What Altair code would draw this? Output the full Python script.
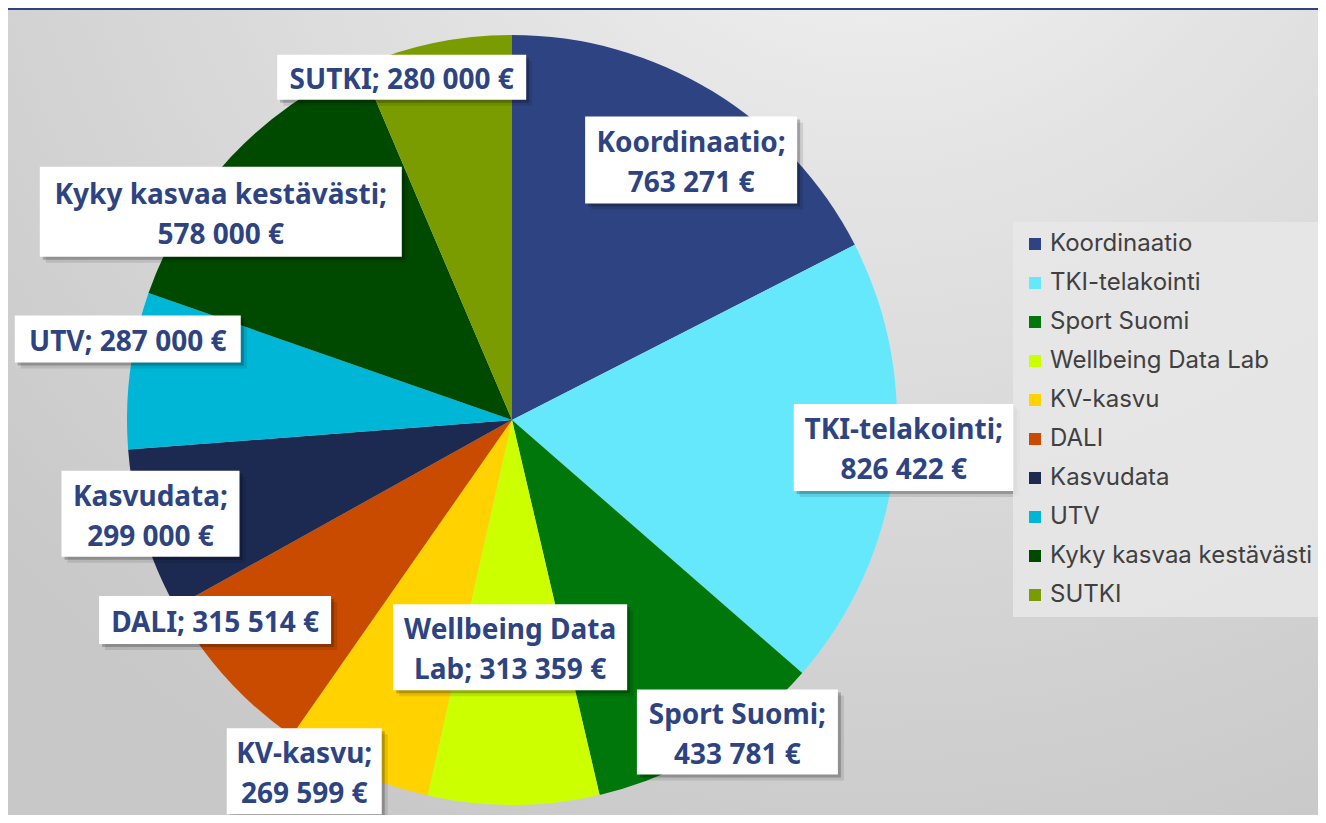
import math
import altair as alt
import pandas as pd

# ---------------- data ----------------
categories = ["Koordinaatio", "TKI-telakointi", "Sport Suomi", "Wellbeing Data Lab",
              "KV-kasvu", "DALI", "Kasvudata", "UTV", "Kyky kasvaa kestävästi", "SUTKI"]
values = [763271, 826422, 433781, 313359, 269599, 315514, 299000, 287000, 578000, 280000]
colors = ["#2E4482", "#66E8FC", "#00770A", "#CCFF00", "#FFD200",
          "#C84B00", "#1C2A52", "#00B6D6", "#004A00", "#7A9C00"]

# ---------------- layout (label placement, not data) ----------------
W, H = 1310, 807
CX, CY, R = 504, 412, 385
LINE_H = 40
label_break_after = [1, 1, 2, 2, 1, None, 1, None, 3, None]
label_angle_nudge = [3.1, -3.0, -4.8, 0.7, 6.8, 8.1, 2.2, 4.5, -7.5, -6.3]
label_radius = [0.82, 1.02, 1.0, 0.59, 1.06, 0.93, 0.97, 1.02, 0.93, 0.935]
box_w = [212, 220, 201, 234, 155, 232, 178, 226, 362, 249]
box_h = [87, 87, 85, 86, 86, 48, 86, 47, 90, 45]


def fmt(v):
    return f"{v:,}".replace(",", " ") + " €"


total = sum(values)
rows = []
cum = 0
for i, (c, v) in enumerate(zip(categories, values)):
    mid = (cum + v / 2) / total * 360
    cum += v
    a = math.radians(mid + label_angle_nudge[i])
    lx = label_radius[i] * math.sin(a)
    ly = label_radius[i] * math.cos(a)
    words = f"{c}; {fmt(v)}".split(" ")
    k = label_break_after[i]
    if k is None:
        text, nlines = " ".join(words), 1
    else:
        text, nlines = " ".join(words[:k]) + "\n" + " ".join(words[k:]), 2
    ty = ly + (nlines - 1) * LINE_H / 2 / R
    hw = box_w[i] / 2 / R
    hh = box_h[i] / 2 / R
    rows.append(dict(idx=i, category=c, value=v, label=text, lx=lx, ly=ly, ty=ty,
                     x0=lx - hw, x1=lx + hw, y0=ly - hh, y1=ly + hh))
df = pd.DataFrame(rows)

xscale = alt.Scale(domain=[-CX / R, (W - CX) / R], nice=False, zero=False)
yscale = alt.Scale(domain=[-(H - CY) / R, CY / R], nice=False, zero=False)

base = alt.Chart(df)

bg = alt.RadialGradient(
    gradient="radial", x1=0.66, y1=0.0, x2=0.66, y2=0.0, r1=0.0, r2=0.9,
    stops=[alt.GradientStop(offset=0, color="#f8f8f8"),
           alt.GradientStop(offset=0.35, color="#e4e4e4"),
           alt.GradientStop(offset=1, color="#c8c8c8")],
)
background = base.mark_rect(color=bg).encode(
    x=alt.value(0), x2=alt.value(W), y=alt.value(0), y2=alt.value(H)
).transform_filter("datum.idx == 0")

top_band = base.mark_rect(color="#2E4482").encode(
    x=alt.value(0), x2=alt.value(W), y=alt.value(0), y2=alt.value(2)
).transform_filter("datum.idx == 0")

pie = base.mark_arc(outerRadius=R).encode(
    theta=alt.Theta("value:Q", stack=True),
    color=alt.Color(
        "category:N",
        sort=categories,
        scale=alt.Scale(domain=categories, range=colors),
        legend=alt.Legend(
            title=None, orient="none", legendX=1005, legendY=214,
            fillColor="rgba(232,232,232,0.85)", padding=10,
            symbolType="square", symbolSize=144, symbolStrokeWidth=0,
            labelFont="Inter", labelFontSize=24, labelColor="#404040",
            labelOffset=3, rowPadding=15, labelLimit=400,
        ),
    ),
    order=alt.Order("idx:Q"),
    x=alt.value(CX), y=alt.value(CY),
)

enc_box = dict(
    x=alt.X("x0:Q", scale=xscale, axis=None),
    x2="x1:Q",
    y=alt.Y("y0:Q", scale=yscale, axis=None),
    y2="y1:Q",
)
shadow2 = base.mark_rect(color="#000000", opacity=0.10, xOffset=6, x2Offset=6,
                         yOffset=6, y2Offset=6).encode(**enc_box)
shadow1 = base.mark_rect(color="#000000", opacity=0.22, xOffset=3, x2Offset=3,
                         yOffset=3, y2Offset=3).encode(**enc_box)
box = base.mark_rect(color="#FFFFFF").encode(**enc_box)

labels = base.mark_text(
    font="Noto Sans", fontWeight="bold", fontSize=28, color="#2E4482",
    lineBreak="\n", lineHeight=LINE_H, align="center", baseline="middle", dy=4,
).encode(
    x=alt.X("lx:Q", scale=xscale, axis=None),
    y=alt.Y("ty:Q", scale=yscale, axis=None),
    text="label:N",
)

chart = alt.layer(background, pie, shadow2, shadow1, box, labels, top_band).properties(
    width=W, height=H, padding=0, autosize=alt.AutoSizeParams(type="none"),
).configure_view(stroke=None).configure(background="#ffffff")

chart.save("out.html", embed_options={"renderer": "svg", "actions": False})
